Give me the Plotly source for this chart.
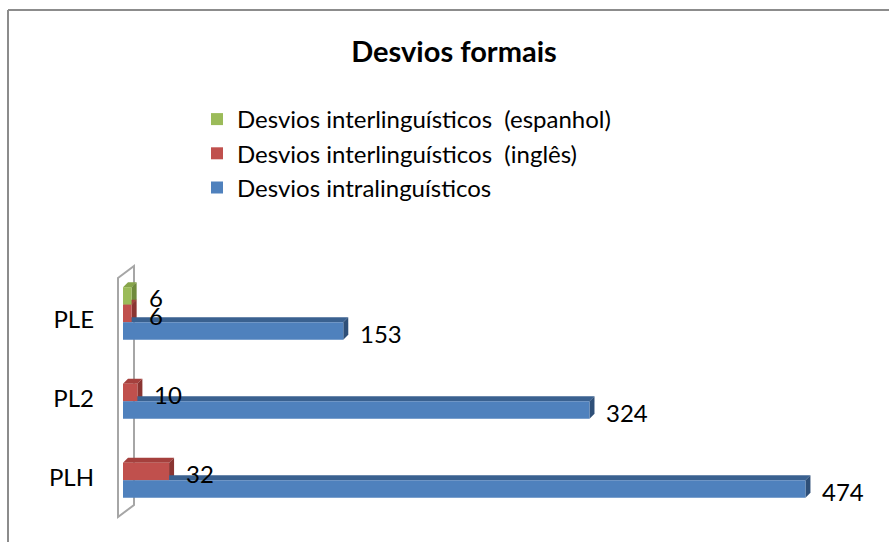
import plotly.graph_objects as go

# Desvios formais por grupo (barras horizontais agrupadas)
categories = ["PLH", "PL2", "PLE"]
cat_pos = [0, 1, 2]
intra = [474, 324, 153]
ingles = [32, 10, 6]
espanhol = [None, None, 6]

# legend order top-to-bottom; slot = position inside each category group
series = [
    ("Desvios interlinguísticos  (espanhol)", espanhol, 2, "#9BBB59", "#86A44A", "#6F8A3C"),
    ("Desvios interlinguísticos  (inglês)", ingles, 1, "#C0504D", "#A5403D", "#8A3532"),
    ("Desvios intralinguísticos", intra, 0, "#4F81BD", "#3A6190", "#2E4F78"),
]

W, H = 889, 542
L, R, T, B = 123, 840, 280, 517  # plot area in pixels
XMAX = 498
BAR_W = 0.222
offsets = [-0.257, -0.035, 0.187]
FONT = "Lato"

px_per_x = (R - L) / XMAX
px_per_y = (B - T) / 3.0
dx = 5 / px_per_x   # depth of the oblique faces, in data units
dy = 5 / px_per_y


def paper_x(px):
    return px / W


def paper_y(py):
    return 1 - py / H


fig = go.Figure()
shapes = []
annotations = []

for name, vals, slot, col, top_col, side_col in series:
    fig.add_trace(go.Bar(
        name=name, y=cat_pos, x=vals, orientation="h",
        width=BAR_W, offset=offsets[slot],
        marker=dict(color=col, line=dict(width=0)),
    ))
    for yc, v in zip(cat_pos, vals):
        if v is None:
            continue
        y0 = yc + offsets[slot]
        y1 = y0 + BAR_W
        # top face
        shapes.append(dict(
            type="path", xref="x", yref="y", layer="below",
            path=f"M0,{y1} L{dx},{y1 + dy} L{v + dx},{y1 + dy} L{v},{y1} Z",
            fillcolor=top_col, line=dict(width=0),
        ))
        # end face
        shapes.append(dict(
            type="path", xref="x", yref="y", layer="below",
            path=f"M{v},{y0} L{v + dx},{y0 + dy} L{v + dx},{y1 + dy} L{v},{y1} Z",
            fillcolor=side_col, line=dict(width=0),
        ))
        annotations.append(dict(
            x=v, y=y0 + BAR_W / 2, xref="x", yref="y",
            text=str(v), showarrow=False, xanchor="left", yanchor="middle",
            xshift=15, yshift=-2,
            font=dict(family=FONT, size=24, color="#000000"),
        ))

# axis wall
wall = [(118, 278), (134, 266), (134, 505), (118, 517)]
path = "M" + " L".join(f"{paper_x(a)},{paper_y(b)}" for a, b in wall) + " Z"
shapes.append(dict(type="path", xref="paper", yref="paper", layer="below",
                   path=path, line=dict(color="#A6A6A6", width=2)))

# chart frame
shapes.append(dict(type="line", xref="paper", yref="paper",
                   x0=paper_x(8), y0=paper_y(10), x1=paper_x(W + 5), y1=paper_y(10),
                   line=dict(color="#8C8C8C", width=2)))
shapes.append(dict(type="line", xref="paper", yref="paper",
                   x0=paper_x(8), y0=paper_y(10), x1=paper_x(8), y1=paper_y(H + 5),
                   line=dict(color="#8C8C8C", width=2)))

fig.update_layout(
    width=W, height=H,
    margin=dict(l=0, r=0, t=0, b=0, pad=0),
    paper_bgcolor="white", plot_bgcolor="rgba(0,0,0,0)",
    barmode="overlay",
    title=dict(text="<b>Desvios formais</b>", x=454 / W, xref="paper",
               xanchor="center", y=paper_y(52), yref="paper", yanchor="middle",
               font=dict(family=FONT, size=29, color="#000000")),
    xaxis=dict(range=[0, XMAX], visible=False, fixedrange=True,
               domain=[L / W, R / W]),
    yaxis=dict(range=[-0.5, 2.5], tickvals=cat_pos, ticktext=categories,
               domain=[paper_y(B), paper_y(T)], automargin=False,
               showgrid=False, zeroline=False, showline=False, ticks="",
               ticklabelstandoff=28,
               tickfont=dict(family=FONT, size=24, color="#000000")),
    legend=dict(x=paper_x(197), xanchor="left",
                y=paper_y(97), yanchor="top",
                traceorder="normal", tracegroupgap=0,
                font=dict(family=FONT, size=24, color="#000000"),
                bgcolor="rgba(0,0,0,0)"),
    shapes=shapes,
    annotations=annotations,
    showlegend=True,
)

fig.write_html("out.html")
